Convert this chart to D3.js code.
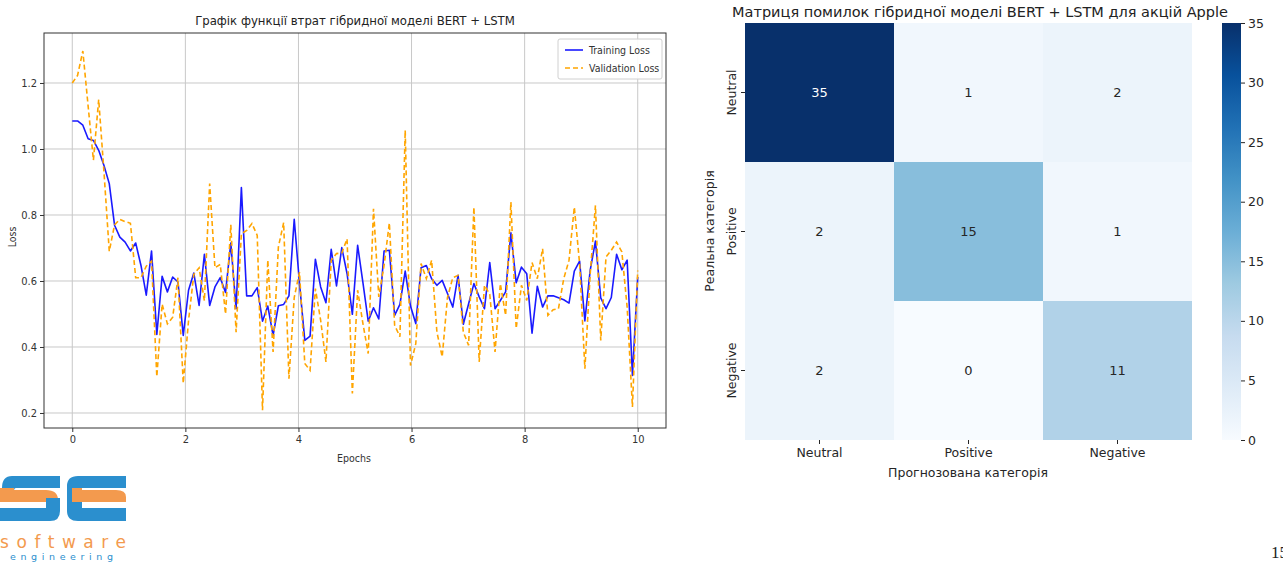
<!DOCTYPE html>
<html>
<head>
<meta charset="utf-8">
<script src="https://cdn.jsdelivr.net/npm/d3@7"></script>
<style>
  body { margin: 0; background: #fff; }
  svg { display: block; }
</style>
</head>
<body>
<div id="chart"></div>
<script>
// ---- data ----
const trainLoss = [1.085, 1.085, 1.072, 1.031, 1.026, 0.996, 0.95, 0.895, 0.769, 0.733,
  0.718, 0.691, 0.715, 0.647, 0.557, 0.691, 0.438, 0.614, 0.567, 0.612,
  0.597, 0.435, 0.572, 0.624, 0.526, 0.681, 0.526, 0.582, 0.61, 0.565, 0.715,
  0.516, 0.883, 0.555, 0.555, 0.58, 0.478, 0.524, 0.435, 0.525, 0.529,
  0.555, 0.787, 0.592, 0.42, 0.433, 0.666, 0.582, 0.534, 0.696, 0.585,
  0.701, 0.622, 0.499, 0.708, 0.595, 0.478, 0.519, 0.485, 0.691, 0.693,
  0.496, 0.529, 0.63, 0.524, 0.471, 0.64, 0.647, 0.607, 0.587,
  0.602, 0.562, 0.521, 0.617, 0.469, 0.531, 0.592, 0.552, 0.516, 0.656,
  0.516, 0.541, 0.567, 0.746, 0.595, 0.642, 0.622, 0.442, 0.584, 0.521,
  0.555, 0.555, 0.549, 0.543, 0.533, 0.63, 0.66, 0.479, 0.632, 0.721,
  0.549, 0.516, 0.55, 0.681, 0.634, 0.663, 0.314, 0.612];

const valLoss = [1.2, 1.223, 1.297, 1.13, 0.966, 1.15, 0.93, 0.69, 0.77, 0.787,
  0.78, 0.775, 0.61, 0.61, 0.645, 0.66, 0.31, 0.53, 0.47, 0.49,
  0.61, 0.29, 0.48, 0.62, 0.64, 0.54, 0.895, 0.64, 0.65, 0.50, 0.77,
  0.445, 0.743, 0.753, 0.774, 0.738, 0.208, 0.663, 0.385, 0.703, 0.777,
  0.304, 0.55, 0.627, 0.35, 0.329, 0.577, 0.481, 0.355, 0.663, 0.683,
  0.685, 0.728, 0.259, 0.572, 0.471, 0.38, 0.819, 0.552, 0.647, 0.776,
  0.466, 0.431, 1.057, 0.344, 0.41, 0.653, 0.607, 0.663, 0.445,
  0.37, 0.55, 0.61, 0.617, 0.445, 0.405, 0.824, 0.355, 0.587, 0.56,
  0.385, 0.592, 0.496, 0.839, 0.456, 0.587, 0.541, 0.656, 0.607, 0.698,
  0.496, 0.513, 0.516, 0.607, 0.663, 0.824, 0.653, 0.334, 0.62, 0.829,
  0.42, 0.673, 0.693, 0.718, 0.688, 0.52, 0.218, 0.632];

const xTicks = [0, 2, 4, 6, 8, 10];
const yTicks = [0.2, 0.4, 0.6, 0.8, 1.0, 1.2];
const seriesNames = ["Training Loss", "Validation Loss"];

const classes = ["Neutral", "Positive", "Negative"];
const confusion = [
  [35, 1, 2],
  [2, 15, 1],
  [2, 0, 11]
];
const cbarTicks = [0, 5, 10, 15, 20, 25, 30, 35];

const W = 1283, H = 563;
const LEFT_FONT = "'DejaVu Sans Condensed', 'DejaVu Sans', sans-serif";
const RIGHT_FONT = "'DejaVu Sans', sans-serif";

const svg = d3.select("#chart").append("svg")
  .attr("width", W).attr("height", H);

// ================= loss chart =================
const x = d3.scaleLinear().domain([-0.5, 10.5]).range([44, 666]);
const y = d3.scaleLinear().domain([0.1545, 1.3515]).range([428, 33]);
const epochOf = i => i * 10 / (trainLoss.length - 1);

const lc = svg.append("g").attr("font-family", LEFT_FONT);

// grid
lc.append("g").selectAll("line").data(xTicks).join("line")
  .attr("x1", d => x(d)).attr("x2", d => x(d))
  .attr("y1", y.range()[0]).attr("y2", y.range()[1])
  .attr("stroke", "#c8c8c8").attr("stroke-width", 1);
lc.append("g").selectAll("line").data(yTicks).join("line")
  .attr("y1", d => y(d)).attr("y2", d => y(d))
  .attr("x1", x.range()[0]).attr("x2", x.range()[1])
  .attr("stroke", "#c8c8c8").attr("stroke-width", 1);

const line = d3.line()
  .x((d, i) => x(epochOf(i)))
  .y(d => y(d));

lc.append("path").datum(trainLoss)
  .attr("d", line).attr("fill", "none")
  .attr("stroke", "#1a1aff").attr("stroke-width", 1.6)
  .attr("stroke-linejoin", "round");
lc.append("path").datum(valLoss)
  .attr("d", line).attr("fill", "none")
  .attr("stroke", "#ffa500").attr("stroke-width", 1.6)
  .attr("stroke-dasharray", "5,3");

// frame
lc.append("rect")
  .attr("x", 44).attr("y", 33).attr("width", 622).attr("height", 395)
  .attr("fill", "none").attr("stroke", "#333").attr("stroke-width", 1);

// axes
const xAxis = lc.append("g").attr("transform", "translate(0,428)")
  .call(d3.axisBottom(x).tickValues(xTicks).tickFormat(d3.format("d")).tickSize(4).tickPadding(3));
const yAxis = lc.append("g").attr("transform", "translate(44,0)")
  .call(d3.axisLeft(y).tickValues(yTicks).tickFormat(d3.format(".1f")).tickSize(4).tickPadding(3));
[xAxis, yAxis].forEach(a => {
  a.select(".domain").remove();
  a.selectAll("text").attr("font-family", LEFT_FONT).attr("font-size", 11).attr("fill", "#333");
  a.selectAll("line").attr("stroke", "#333");
});

lc.append("text").attr("x", 355).attr("y", 25).attr("text-anchor", "middle")
  .attr("font-size", 13).attr("fill", "#222")
  .text("Графік функції втрат гібридної моделі BERT + LSTM");
lc.append("text").attr("x", 354).attr("y", 462).attr("text-anchor", "middle")
  .attr("font-size", 10.5).attr("fill", "#333").text("Epochs");
lc.append("text").attr("transform", "translate(16,237) rotate(-90)")
  .attr("text-anchor", "middle").attr("font-size", 10.5).attr("fill", "#333").text("Loss");

// legend
const leg = lc.append("g").attr("transform", "translate(558,39)");
leg.append("rect").attr("width", 104).attr("height", 40).attr("rx", 2)
  .attr("fill", "#fff").attr("fill-opacity", 0.9).attr("stroke", "#d0d0d0");
const legStyles = [{ c: "#1a1aff", dash: null }, { c: "#ffa500", dash: "5,3" }];
seriesNames.forEach((name, i) => {
  const gy = 11 + i * 18;
  leg.append("line").attr("x1", 7).attr("x2", 25).attr("y1", gy).attr("y2", gy)
    .attr("stroke", legStyles[i].c).attr("stroke-width", 1.6)
    .attr("stroke-dasharray", legStyles[i].dash);
  leg.append("text").attr("x", 31).attr("y", gy + 4)
    .attr("font-size", 10.5).attr("fill", "#333").text(name);
});

// ================= confusion matrix =================
const hx = d3.scaleBand().domain(classes).range([745, 1192]);
const hy = d3.scaleBand().domain(classes).range([23, 440]);
const bluesStops = ["#f7fbff", "#deebf7", "#c6dbef", "#9ecae1", "#6baed6", "#4292c6", "#2171b5", "#08519c", "#08306b"];
const color = d3.scaleLinear()
  .domain(bluesStops.map((_, i) => 35 * i / (bluesStops.length - 1)))
  .range(bluesStops).interpolate(d3.interpolateRgb);

const hm = svg.append("g").attr("font-family", RIGHT_FONT);
const cells = confusion.flatMap((row, r) => row.map((v, c) => ({ r: classes[r], c: classes[c], v })));
hm.selectAll("rect.cell").data(cells).join("rect").attr("class", "cell")
  .attr("x", d => hx(d.c)).attr("y", d => hy(d.r))
  .attr("width", hx.bandwidth()).attr("height", hy.bandwidth())
  .attr("fill", d => color(d.v));
hm.selectAll("text.val").data(cells).join("text").attr("class", "val")
  .attr("x", d => hx(d.c) + hx.bandwidth() / 2)
  .attr("y", d => hy(d.r) + hy.bandwidth() / 2)
  .attr("dy", "0.35em").attr("text-anchor", "middle").attr("font-size", 13)
  .attr("fill", d => d.v > 20 ? "#fff" : "#262626")
  .text(d => d.v);

const hxAxis = hm.append("g").attr("transform", "translate(0,440)")
  .call(d3.axisBottom(hx).tickSize(4).tickPadding(4));
const hyAxis = hm.append("g").attr("transform", "translate(745,0)")
  .call(d3.axisLeft(hy).tickSize(4).tickPadding(4));
[hxAxis, hyAxis].forEach(a => {
  a.select(".domain").remove();
  a.selectAll("text").attr("font-family", RIGHT_FONT).attr("font-size", 12.5).attr("fill", "#262626");
  a.selectAll("line").attr("stroke", "#262626");
});
// rotated row labels (each tick group is already translated to its band centre)
hyAxis.selectAll("text")
  .attr("transform", "translate(-9,0) rotate(-90)")
  .attr("x", 0).attr("y", 0).attr("dy", "0").attr("text-anchor", "middle");

hm.append("text").attr("x", 980).attr("y", 17).attr("text-anchor", "middle")
  .attr("font-size", 14.5).attr("fill", "#222")
  .text("Матриця помилок гібридної моделі BERT + LSTM для акцій Apple");
hm.append("text").attr("x", 968).attr("y", 477).attr("text-anchor", "middle")
  .attr("font-size", 12.5).attr("fill", "#262626").text("Прогнозована категорія");
hm.append("text").attr("transform", "translate(714,231) rotate(-90)")
  .attr("text-anchor", "middle").attr("font-size", 12.5).attr("fill", "#262626")
  .text("Реальна категорія");

// colorbar
const cb = d3.scaleLinear().domain([0, 35]).range([440, 23]);
const grad = svg.append("defs").append("linearGradient")
  .attr("id", "blues").attr("x1", 0).attr("y1", 1).attr("x2", 0).attr("y2", 0);
bluesStops.forEach((c, i) => grad.append("stop")
  .attr("offset", i / (bluesStops.length - 1)).attr("stop-color", c));
hm.append("rect").attr("x", 1222).attr("y", cb(35)).attr("width", 19)
  .attr("height", cb(0) - cb(35)).attr("fill", "url(#blues)");
const cbAxis = hm.append("g").attr("transform", "translate(1241,0)")
  .call(d3.axisRight(cb).tickValues(cbarTicks).tickSize(4).tickPadding(3));
cbAxis.select(".domain").remove();
cbAxis.selectAll("text").attr("font-family", RIGHT_FONT).attr("font-size", 12.5).attr("fill", "#262626");
cbAxis.selectAll("line").attr("stroke", "#262626");

// ================= logo + page number =================
const logo = svg.append("g");
const LB = "#2b8fce", LO = "#f39a4e";
// S
logo.append("path").attr("fill", LB)
  .attr("d", "M12,476 H60 V488 H16 Q14,488 14,491 V496 H2 V488 Q2,476 12,476 Z");
logo.append("path").attr("fill", LO)
  .attr("d", "M0,488 H14 V490 H46 Q58,490 58,500 V502 H0 Z");
logo.append("path").attr("fill", LB)
  .attr("d", "M46,498 H60 V511 Q60,521 50,521 H0 V508 H46 Z");
// E
logo.append("path").attr("fill", LB)
  .attr("d", "M78,476 H126 V488 H82 V508 H126 V521 H78 Q67,521 67,511 V486 Q67,476 78,476 Z");
logo.append("path").attr("fill", LO)
  .attr("d", "M72,488 H82 V490 H116 Q126,490 126,497 V502 H72 Z");
logo.append("text").attr("x", 0).attr("y", 548).attr("font-family", "'DejaVu Sans', sans-serif")
  .attr("font-size", 17).attr("textLength", 126).attr("lengthAdjust", "spacing")
  .attr("fill", LO).text("software");
logo.append("text").attr("x", 10).attr("y", 560).attr("font-family", "'DejaVu Sans', sans-serif")
  .attr("font-size", 9.5).attr("textLength", 103).attr("lengthAdjust", "spacing")
  .attr("fill", LB).text("engineering");

svg.append("text").attr("x", 1271).attr("y", 558)
  .attr("font-family", "'Liberation Serif', serif").attr("font-size", 17).attr("fill", "#222").text("15");
</script>
</body>
</html>
